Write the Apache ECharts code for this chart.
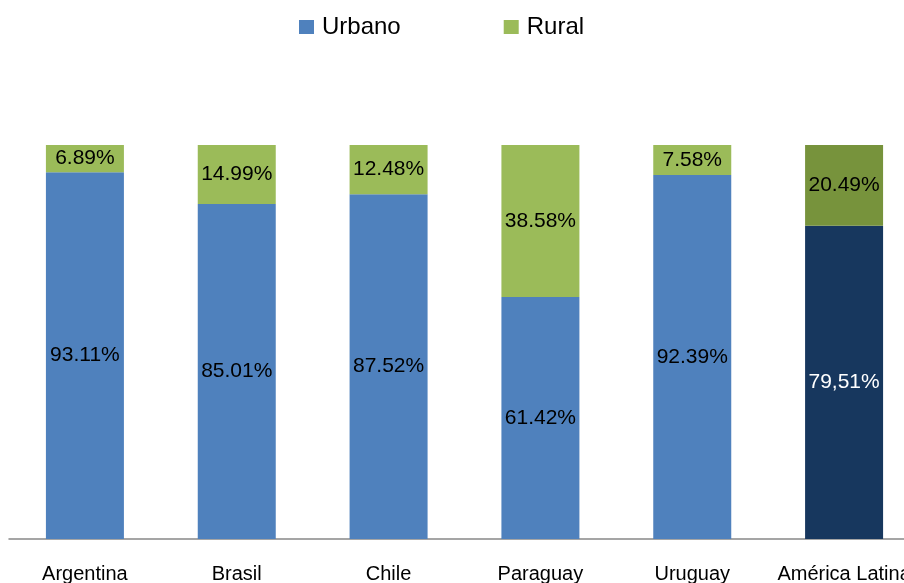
<!DOCTYPE html>
<html lang="es" style="height: 100%">
<head>
  <meta charset="UTF-8">
</head>
<body style="height: 100%; margin: 0; background: #fff">
  <div id="container" style="width: 904px; height: 583px"></div>
  <script type="text/javascript" src="https://cdn.jsdelivr.net/npm/echarts@6/dist/echarts.min.js"></script>
  <script type="text/javascript">
    var categories = ['Argentina', 'Brasil', 'Chile', 'Paraguay', 'Uruguay', 'América Latina'];
    var urbano = [93.11, 85.01, 87.52, 61.42, 92.39, 79.51];
    var rural = [6.89, 14.99, 12.48, 38.58, 7.58, 20.49];
    var urbanoLabels = ['93.11%', '85.01%', '87.52%', '61.42%', '92.39%', '79,51%'];
    var ruralLabels = ['6.89%', '14.99%', '12.48%', '38.58%', '7.58%', '20.49%'];

    var FONT = '"Liberation Sans", Arial, sans-serif';
    var last = categories.length - 1;

    function build(values, labels, color, darkColor, darkText) {
      return values.map(function (v, i) {
        var isLast = i === last;
        return {
          value: v,
          itemStyle: { color: isLast ? darkColor : color },
          label: {
            formatter: labels[i],
            color: isLast ? darkText : '#000'
          }
        };
      });
    }

    var chart = echarts.init(document.getElementById('container'), null, { renderer: 'canvas' });
    chart.setOption({
      animation: false,
      backgroundColor: '#fff',
      legend: {
        top: 10,
        left: 294,
        itemWidth: 15,
        itemHeight: 14,
        itemGap: 103,
        icon: 'rect',
        textStyle: { fontFamily: FONT, fontSize: 24, color: '#000', padding: [0, 0, 0, 3] },
        data: ['Urbano', 'Rural']
      },
      grid: { left: 9, right: -16, top: 145, bottom: 44, outerBoundsMode: 'none', containLabel: false },
      xAxis: {
        type: 'category',
        data: categories,
        axisLine: { lineStyle: { color: '#888', width: 1.5 } },
        axisTick: { show: false },
        axisLabel: {
          fontFamily: FONT,
          fontSize: 20,
          color: '#000',
          margin: 25,
          interval: 0
        }
      },
      yAxis: {
        type: 'value',
        min: 0,
        max: 100,
        show: false,
        splitLine: { show: false }
      },
      series: [
        {
          name: 'Urbano',
          type: 'bar',
          stack: 'total',
          barWidth: 78,
          color: '#4f81bd',
          label: { show: true, position: 'inside', fontFamily: FONT, fontSize: 21 },
          data: build(urbano, urbanoLabels, '#4f81bd', '#17375e', '#fff')
        },
        {
          name: 'Rural',
          type: 'bar',
          stack: 'total',
          barWidth: 78,
          color: '#9bbb59',
          label: { show: true, position: 'inside', fontFamily: FONT, fontSize: 21 },
          data: build(rural, ruralLabels, '#9bbb59', '#77933c', '#000')
        }
      ]
    });
  </script>
</body>
</html>
